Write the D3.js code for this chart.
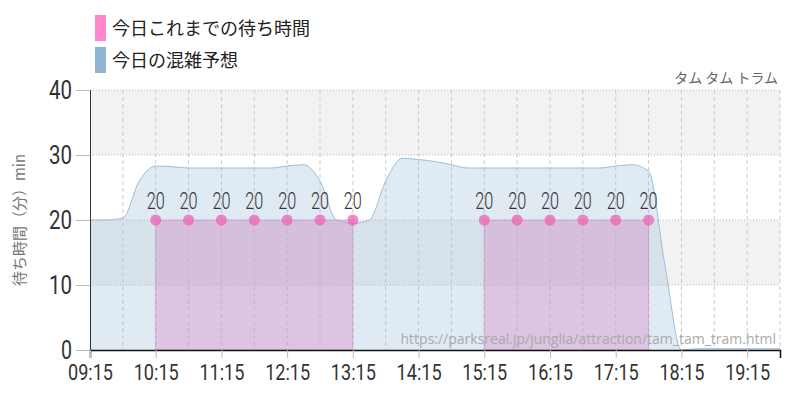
<!DOCTYPE html>
<html><head><meta charset="utf-8">
<script src="https://cdn.jsdelivr.net/npm/d3@7"></script>
<style>
body { margin:0; background:#fff; font-family:"Noto Sans CJK JP", sans-serif; }
.num { font-family:Roboto, sans-serif; }
</style></head>
<body><svg id="chart" width="800" height="400"></svg>
<script>
// forecast every 15 min from 09:15
var forecastStart = "09:15"
  , forecast = [20,20,20.3,26,28.3,28.2,28,28,28,28,28,28,28.3,28.5,26,20,19.5,20,26,29.5,29.3,29,28.5,28,28,28,28,28,28,28,28,28,28.3,28.5,27.5,13,0,0.2,0.2,0.2,0.2,0.2,0.2]
  , actualTimes = [["10:15","10:45","11:15","11:45","12:15","12:45","13:15"],
                   ["15:15","15:45","16:15","16:45","17:15","17:45"]]
  , actualValues = [[20,20,20,20,20,20,20],[20,20,20,20,20,20]]
  , xTicks = ["09:15","10:15","11:15","12:15","13:15","14:15","15:15","16:15","17:15","18:15","19:15"]
  , yTicks = [0,10,20,30,40]
  ;

function mins(t) { var p = t.split(":"); return +p[0]*60 + +p[1]; }

var svg = d3.select("#chart")
  , x = d3.scaleLinear().domain([mins("09:15"), mins("19:45")]).range([90, 780])
  , y = d3.scaleLinear().domain([0, 40]).range([350, 90])
  ;

// background bands
[[30,40],[10,20]].forEach(function (b) {
  svg.append("rect").attr("x", 90).attr("width", 690)
     .attr("y", y(b[1])).attr("height", y(b[0]) - y(b[1])).attr("fill", "#f2f2f2");
});
// grid
for (var m = mins("09:45"); m <= mins("19:45"); m += 30) {
  svg.append("line").attr("x1", x(m)).attr("x2", x(m)).attr("y1", 90).attr("y2", 350)
     .attr("stroke", "#ccc").attr("stroke-dasharray", "4,3");
}
yTicks.forEach(function (v) {
  if (v > 0) svg.append("line").attr("x1", 90).attr("x2", 780).attr("y1", y(v)).attr("y2", y(v))
     .attr("stroke", "#bbb").attr("stroke-dasharray", "1,2");
});

// forecast area
var f0 = mins(forecastStart);
var fData = forecast.map(function (v, i) { return [f0 + i*15, v]; });
svg.append("path").datum(fData)
   .attr("d", d3.area().x(function (d) { return x(d[0]); }).y0(y(0)).y1(function (d) { return y(d[1]); }).curve(d3.curveMonotoneX))
   .attr("fill", "rgba(150,185,215,0.3)");
svg.append("path").datum(fData)
   .attr("d", d3.line().x(function (d) { return x(d[0]); }).y(function (d) { return y(d[1]); }).curve(d3.curveMonotoneX))
   .attr("fill", "none").attr("stroke", "#9fbdd8").attr("stroke-width", 1);

// actual
actualTimes.forEach(function (ts, k) {
  var d = ts.map(function (t, i) { return [mins(t), actualValues[k][i]]; });
  svg.append("path").datum(d)
     .attr("d", d3.area().x(function (p) { return x(p[0]); }).y0(y(0)).y1(function (p) { return y(p[1]); }))
     .attr("fill", "rgba(215,140,200,0.4)").attr("stroke", "rgba(200,120,190,0.5)").attr("stroke-width", 0.8);
  svg.selectAll(null).data(d).enter().append("circle")
     .attr("cx", function (p) { return x(p[0]); }).attr("cy", function (p) { return y(p[1]); })
     .attr("r", 5.5).attr("fill", "rgba(235,100,180,0.75)");
  svg.selectAll(null).data(d).enter().append("text").attr("class", "num")
     .attr("x", function (p) { return x(p[0]) - 9; }).attr("y", function (p) { return y(p[1]) - 11; })
     .attr("font-size", 24).attr("font-weight", 300).attr("fill", "#333")
     .attr("textLength", 18).attr("lengthAdjust", "spacingAndGlyphs")
     .text(function (p) { return p[1]; });
});

// axes
var yAxis = svg.append("g").attr("transform", "translate(90,0)")
  .call(d3.axisLeft(y).tickValues(yTicks).tickSize(14).tickPadding(4));
yAxis.select(".domain").attr("stroke", "#333");
yAxis.selectAll(".tick line").attr("stroke", "#bbb");
yAxis.selectAll("text").attr("class", "num").attr("font-size", 25).attr("fill", "#333").attr("font-weight", 400)
     .attr("textLength", function (d) { return d === 0 ? 11 : 23; }).attr("lengthAdjust", "spacingAndGlyphs");

var xAxis = svg.append("g").attr("transform", "translate(0,350)")
  .call(d3.axisBottom(x).tickValues(xTicks.map(mins)).tickSize(8)
        .tickFormat(function (d, i) { return xTicks[i]; }));
xAxis.select(".domain").attr("stroke", "#111").attr("stroke-width", 1.5);
xAxis.selectAll(".tick line").attr("stroke", "#bbb");
xAxis.selectAll("text").attr("class", "num").attr("font-size", 22).attr("fill", "#333").attr("font-weight", 400)
     .attr("dy", "0.85em").attr("textLength", 45).attr("lengthAdjust", "spacingAndGlyphs");

// labels
svg.append("text").attr("transform", "translate(25,220) rotate(-90)").attr("text-anchor", "middle")
   .attr("font-size", 15).attr("fill", "#777").text("待ち時間（分）min");
svg.append("text").attr("x", 778).attr("y", 83).attr("text-anchor", "end")
   .attr("font-size", 14).attr("fill", "#666").text("タム タム トラム");
svg.append("text").attr("x", 776).attr("y", 344).attr("text-anchor", "end")
   .attr("font-family", "'Open Sans', sans-serif").attr("font-size", 14).attr("fill", "#aaa")
   .text("https://parksreal.jp/junglia/attraction/tam_tam_tram.html");

// legend
[["今日これまでの待ち時間", "#ff88cc"], ["今日の混雑予想", "#8fb3d3"]].forEach(function (l, i) {
  svg.append("rect").attr("x", 95).attr("y", 15 + i*32).attr("width", 11).attr("height", 26).attr("fill", l[1]);
  svg.append("text").attr("x", 112).attr("y", 35 + i*32).attr("font-size", 18).attr("fill", "#222").text(l[0]);
});
</script></body></html>
